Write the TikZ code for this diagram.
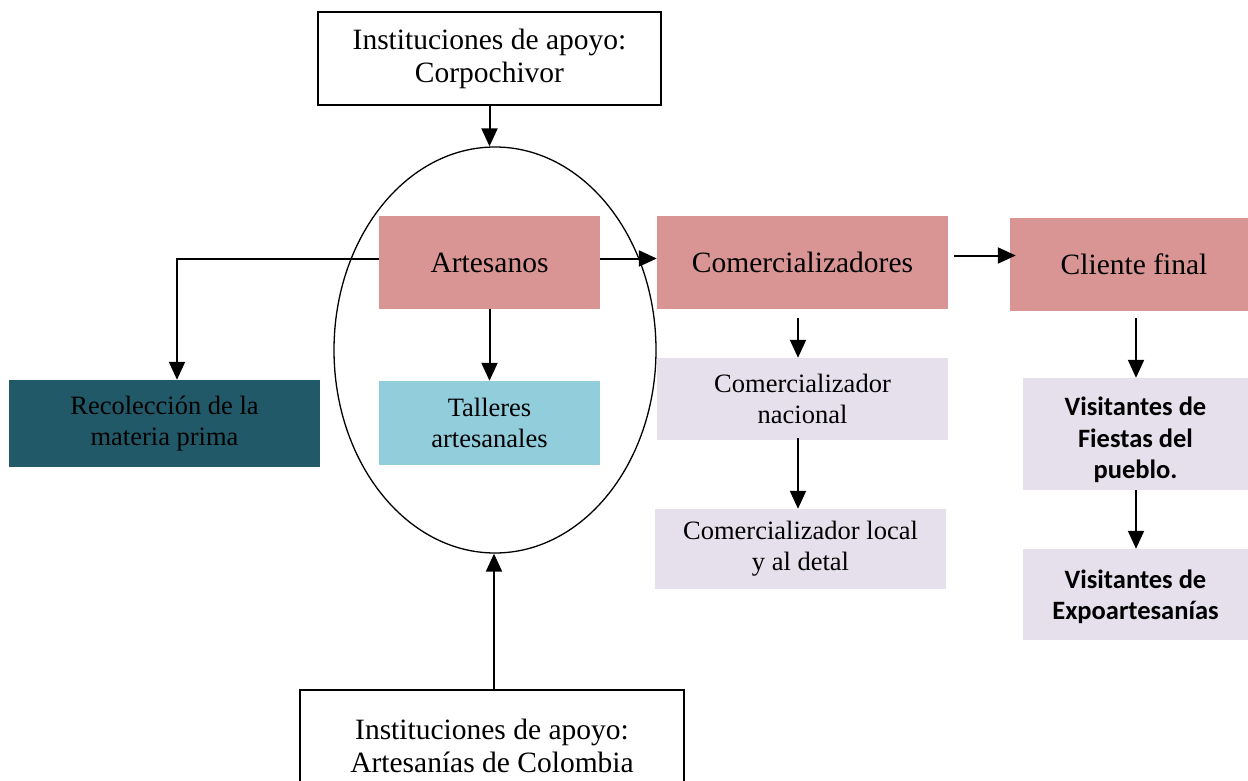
\documentclass[tikz,border=0pt]{standalone}
\usepackage{fontspec}
\setmainfont{Liberation Serif}
\newfontfamily\calibfont{Carlito}
\usetikzlibrary{arrows.meta,shapes.geometric}
\definecolor{pinkc}{HTML}{D99594}
\definecolor{tealc}{HTML}{215968}
\definecolor{bluec}{HTML}{92CDDC}
\definecolor{lavc}{HTML}{E5E0EC}
\begin{document}
\begin{tikzpicture}[x=1pt,y=-1pt,
  inst/.style={draw, line width=1.6pt, align=center, inner sep=0pt, minimum width=343pt, minimum height=93pt, font=\fontsize{29.5}{33}\selectfont},
  bigbox/.style={fill=pinkc, align=center, inner sep=0pt, minimum height=93pt, font=\fontsize{29.5}{33}\selectfont},
  smallbox/.style={align=center, inner sep=0pt, font=\fontsize{26.5}{31}\selectfont},
  visbox/.style={fill=lavc, inner sep=0pt, minimum width=225pt},
  vistext/.style={align=center, inner sep=0pt, font=\calibfont\bfseries\fontsize{26.5}{31.5}\selectfont},
  conn/.style={line width=2pt, -{Triangle[length=18pt,width=16pt]}}]
\clip (0,0) rectangle (1248,781);
\fill[white] (0,0) rectangle (1248,781);

\node[inst] (top) at (489.5,58.5) {Instituciones de apoyo:\\Corpochivor};
\node[draw, line width=1.3pt, ellipse, minimum width=322pt, minimum height=406pt, inner sep=0pt] (ell) at (495,350) {};
\node[bigbox, minimum width=221pt] (art) at (489.5,262.5) {Artesanos};
\node[bigbox, minimum width=291pt] (com) at (802.5,262.5) {Comercializadores};
\node[bigbox, minimum width=238pt] (cli) at (1129,264.5) {\hspace{10pt}Cliente final};
\node[smallbox, fill=tealc, minimum width=311pt, minimum height=87pt] (rec) at (164.5,423.5) {Recolección de la\\materia prima};
\node[smallbox, fill=bluec, minimum width=221pt, minimum height=84pt] (tal) at (489.5,423) {Talleres\\artesanales};
\node[smallbox, fill=lavc, minimum width=291pt, minimum height=82pt] (nac) at (802.5,399) {Comercializador\\nacional};
\node[smallbox, fill=lavc, minimum width=291pt, minimum height=80pt] (loc) at (800.5,549) {Comercializador local\\y al detal};
\node[visbox, minimum height=112pt] (fie) at (1135.5,434) {};
\node[vistext] (fietxt) at (1135.5,440) {Visitantes de\\Fiestas del\\pueblo.};
\node[visbox, minimum height=91pt] (exp) at (1135.5,594.5) {};
\node[vistext] (exptxt) at (1135.5,597) {Visitantes de\\Expoartesanías};
\node[inst, anchor=north, minimum width=384pt, minimum height=112pt] (bot) at (492,689) {Instituciones de apoyo:\\Artesanías de Colombia};

\draw[conn] (top.south) -- (top.south |- ell.north);
\draw[conn] ([xshift=2pt]bot.north) -- ([xshift=2pt]bot.north |- ell.south);
\draw[conn] ([yshift=4pt]art.east) -- ([yshift=4pt]art.east -| com.west);
\draw[conn] ([xshift=6pt,yshift=7pt]com.east) -- ([xshift=6pt,yshift=7pt]com.east -| cli.west);
\draw[conn] ([yshift=4pt]art.west) -| ([xshift=12.5pt]rec.north);
\draw[conn] (art.south) -- (tal.north);
\draw[conn] ([xshift=-4.5pt,yshift=-9pt]com.south) -- ([xshift=-4.5pt]nac.north);
\draw[conn] ([xshift=-4.5pt,yshift=2pt]nac.south) -- ([xshift=-4.5pt]nac.south |- loc.north);
\draw[conn] ([xshift=7pt,yshift=-7pt]cli.south) -- ([xshift=7pt]cli.south |- fie.north);
\draw[conn] ([xshift=0.5pt]fie.south) -- ([xshift=0.5pt]exp.north);
\end{tikzpicture}
\end{document}
